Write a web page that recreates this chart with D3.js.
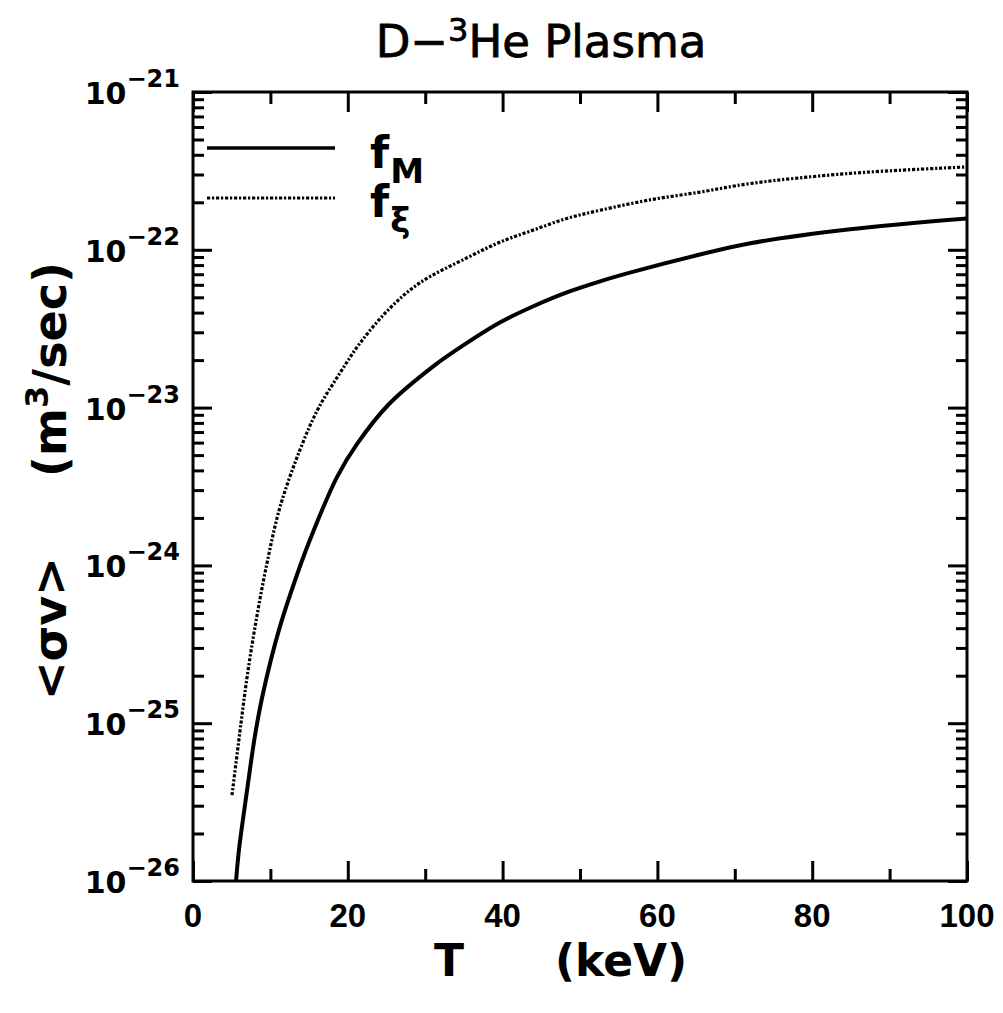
<!DOCTYPE html>
<html>
<head>
<meta charset="utf-8">
<script src="https://cdn.jsdelivr.net/npm/d3@7"></script>
<style>
  body { margin: 0; background: #fff; }
  text { fill: #000; }
</style>
</head>
<body>
<svg id="chart" width="1003" height="1013"></svg>
<script>
// Reactivity <σv> (m^3/s) of a D-3He plasma versus temperature T (keV)
// Maxwellian distribution f_M
const temperatureM = [5.56, 5.94, 7.0, 8.0, 9.0, 11.1, 13.8, 15.1, 18.6, 21.2, 25.3, 31.0, 35.4, 39.7, 43.9, 48.3, 52.6, 56.8, 65.5, 72.0, 84.9, 100];
const sigmaVM = [1.0e-26, 1.58e-26, 3.8e-26, 8.3e-26, 1.51e-25, 3.89e-25, 9.8e-25, 1.45e-24, 3.63e-24, 5.89e-24, 1.05e-23, 1.82e-23, 2.57e-23, 3.47e-23, 4.37e-23, 5.37e-23, 6.31e-23, 7.24e-23, 9.33e-23, 1.10e-22, 1.35e-22, 1.58e-22];

// Non-Maxwellian distribution f_ξ
const temperatureXi = [5.04, 6.2, 6.98, 8.01, 9.5, 11.24, 13.82, 16.15, 19.0, 21.6, 25.45, 29.3, 35.4, 39.7, 43.9, 48.3, 52.6, 59.0, 65.5, 72.0, 84.9, 100];
const sigmaVXi = [3.5e-26, 1.0e-25, 1.95e-25, 4.07e-25, 1.0e-24, 2.34e-24, 5.4e-24, 9.8e-24, 1.66e-23, 2.57e-23, 4.27e-23, 6.17e-23, 8.9e-23, 1.12e-22, 1.33e-22, 1.58e-22, 1.78e-22, 2.07e-22, 2.32e-22, 2.63e-22, 3.05e-22, 3.35e-22];

const seriesSubscripts = ["M", "ξ"];
const xTickValues = [0, 20, 40, 60, 80, 100];
const xMinorTickValues = [10, 30, 50, 70, 90];
const yDecadeExponents = [-26, -25, -24, -23, -22, -21];

(function draw() {
  const svg = d3.select("#chart");
  const plotLeft = 193, plotRight = 967, plotTop = 92, plotBottom = 881;

  const x = d3.scaleLinear().domain([0, 100]).range([plotLeft, plotRight]);
  const y = d3.scaleLog().domain([1e-26, 1e-21]).range([plotBottom, plotTop]);

  const sans = "'DejaVu Sans', sans-serif";
  const dotted = "3.2,1.8,2.2,1.8";

  // Log minor tick values (2..9 in each decade)
  const yMinorTickValues = [];
  yDecadeExponents.slice(0, -1).forEach(k => {
    for (let m = 2; m <= 9; m++) yMinorTickValues.push(m * Math.pow(10, k));
  });
  const yMajorTickValues = yDecadeExponents.map(k => Math.pow(10, k));

  function styleAxis(g) {
    g.select(".domain").remove();
    g.selectAll(".tick line").attr("stroke", "#000").attr("stroke-width", 3);
    g.selectAll(".tick text").remove();
  }

  // Inward-pointing ticks on all four sides
  svg.append("g").attr("transform", `translate(0,${plotBottom})`)
    .call(d3.axisBottom(x).tickValues(xTickValues).tickSize(-20)).call(styleAxis);
  svg.append("g").attr("transform", `translate(0,${plotBottom})`)
    .call(d3.axisBottom(x).tickValues(xMinorTickValues).tickSize(-12)).call(styleAxis);
  svg.append("g").attr("transform", `translate(0,${plotTop})`)
    .call(d3.axisTop(x).tickValues(xTickValues).tickSize(-20)).call(styleAxis);
  svg.append("g").attr("transform", `translate(0,${plotTop})`)
    .call(d3.axisTop(x).tickValues(xMinorTickValues).tickSize(-12)).call(styleAxis);

  svg.append("g").attr("transform", `translate(${plotLeft},0)`)
    .call(d3.axisLeft(y).tickValues(yMajorTickValues).tickSize(-19)).call(styleAxis);
  svg.append("g").attr("transform", `translate(${plotLeft},0)`)
    .call(d3.axisLeft(y).tickValues(yMinorTickValues).tickSize(-11)).call(styleAxis);
  svg.append("g").attr("transform", `translate(${plotRight},0)`)
    .call(d3.axisRight(y).tickValues(yMajorTickValues).tickSize(-19)).call(styleAxis);
  svg.append("g").attr("transform", `translate(${plotRight},0)`)
    .call(d3.axisRight(y).tickValues(yMinorTickValues).tickSize(-11)).call(styleAxis);

  // Frame
  svg.append("rect")
    .attr("x", plotLeft).attr("y", plotTop)
    .attr("width", plotRight - plotLeft).attr("height", plotBottom - plotTop)
    .attr("fill", "none").attr("stroke", "#000").attr("stroke-width", 3);

  // X tick labels
  svg.append("g").selectAll("text").data(xTickValues).join("text")
    .attr("x", d => x(d)).attr("y", plotBottom + 46)
    .attr("text-anchor", "middle")
    .attr("font-family", "'Liberation Sans', Arial, sans-serif")
    .attr("font-weight", "bold").attr("font-size", 33)
    .text(d => d);

  // Y tick labels: 10^k
  const yLabels = svg.append("g").selectAll("text").data(yDecadeExponents).join("text")
    .attr("x", 180).attr("y", d => y(Math.pow(10, d)) + 12)
    .attr("text-anchor", "end")
    .attr("font-family", sans)
    .attr("font-weight", "bold").attr("font-size", 30);
  yLabels.append("tspan").text("10");
  yLabels.append("tspan").attr("dy", -17).attr("font-size", 24).text(d => "−" + Math.abs(d));

  // Curves
  svg.append("clipPath").attr("id", "plotClip")
    .append("rect").attr("x", plotLeft).attr("y", plotTop)
    .attr("width", plotRight - plotLeft).attr("height", plotBottom - plotTop);

  const line = d3.line()
    .x(d => x(d[0])).y(d => y(d[1]))
    .curve(d3.curveCatmullRom.alpha(0.5));

  const plot = svg.append("g").attr("clip-path", "url(#plotClip)");
  plot.append("path")
    .datum(d3.zip(temperatureM, sigmaVM))
    .attr("d", line)
    .attr("fill", "none").attr("stroke", "#000").attr("stroke-width", 4)
    .attr("stroke-linejoin", "round");
  plot.append("path")
    .datum(d3.zip(temperatureXi, sigmaVXi))
    .attr("d", line)
    .attr("fill", "none").attr("stroke", "#000").attr("stroke-width", 3.2)
    .attr("stroke-dasharray", dotted);

  // Legend
  const legendStyles = [
    { y: 148, width: 3.4, dash: null, textY: 168 },
    { y: 198, width: 3.2, dash: dotted, textY: 217 }
  ];
  legendStyles.forEach((s, i) => {
    svg.append("line")
      .attr("x1", 207).attr("x2", 335).attr("y1", s.y).attr("y2", s.y)
      .attr("stroke", "#000").attr("stroke-width", s.width)
      .attr("stroke-dasharray", s.dash);
    const t = svg.append("text")
      .attr("x", 370).attr("y", s.textY)
      .attr("font-family", sans).attr("font-weight", "bold").attr("font-size", 44);
    t.append("tspan").text("f");
    t.append("tspan").attr("dy", 15).attr("dx", 1).attr("font-size", 34).text(seriesSubscripts[i]);
  });

  // Title
  const title = svg.append("text")
    .attr("x", 541).attr("y", 57)
    .attr("text-anchor", "middle")
    .attr("font-family", sans).attr("font-size", 45)
    .attr("stroke", "#000").attr("stroke-width", 0.8);
  title.append("tspan").text("D−");
  title.append("tspan").attr("dy", -16).attr("font-size", 32).text("3");
  title.append("tspan").attr("dy", 16).text("He Plasma");

  // X axis title
  const xTitle = svg.append("text")
    .attr("y", 976)
    .attr("font-family", sans).attr("font-weight", "bold").attr("font-size", 44);
  xTitle.append("tspan").attr("x", 434).text("T");
  xTitle.append("tspan").attr("x", 555).text("(keV)");

  // Y axis title (rotated)
  svg.append("text")
    .attr("transform", "translate(66,700) rotate(-90)")
    .attr("text-anchor", "start")
    .attr("font-family", sans).attr("font-weight", "bold").attr("font-size", 46)
    .text("<σv>");
  const yUnits = svg.append("text")
    .attr("transform", "translate(66,262) rotate(-90)")
    .attr("text-anchor", "end")
    .attr("font-family", sans).attr("font-weight", "bold").attr("font-size", 46);
  yUnits.append("tspan").text("(m");
  yUnits.append("tspan").attr("dy", -18).attr("font-size", 32).text("3");
  yUnits.append("tspan").attr("dy", 18).text("/sec)");
})();
</script>
</body>
</html>
